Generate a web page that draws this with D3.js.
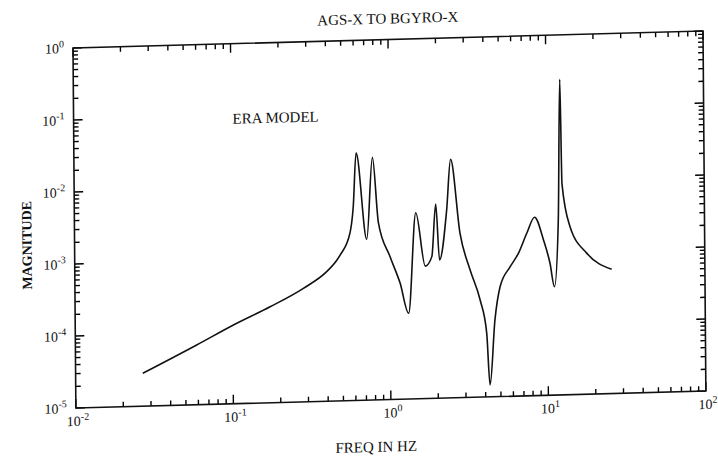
<!DOCTYPE html>
<html>
<head>
<meta charset="utf-8">
<script src="https://cdn.jsdelivr.net/npm/d3@7"></script>
<style>
  html, body { margin: 0; padding: 0; background: #fff; }
  svg { display: block; }
  .lbl { font-family: "Liberation Serif", "DejaVu Serif", serif; fill: #111; }
</style>
</head>
<body>
<div id="chart"></div>
<script>
// frequency response (Hz, magnitude)
var freqHz = [0.0267, 0.0589, 0.101, 0.173, 0.282, 0.397, 0.461, 0.483, 0.561, 0.590, 0.619,
              0.716, 0.785, 0.851, 1.005, 1.16, 1.31, 1.47, 1.68, 1.85, 1.97, 2.07, 2.31, 2.46,
              2.80, 3.23, 3.73, 4.09, 4.27, 4.62, 5.0, 5.81, 6.56, 7.43, 8.34, 9.48, 10.4, 11.07,
              11.8, 12.25, 12.5, 14.0, 17.8, 25.6];
var magnitude = [2.86e-5, 6.75e-5, 1.24e-4, 2.15e-4, 3.77e-4, 6.3e-4, 9.0e-4, 1.05e-3, 2.13e-3, 4.9e-3, 2.75e-2,
                 1.71e-3, 2.34e-2, 2.86e-3, 9.6e-4, 4.1e-4, 1.55e-4, 3.84e-3, 6.9e-4, 9.3e-4, 4.98e-3, 8.3e-4, 4.07e-3, 2.05e-2,
                 1.93e-3, 5.9e-4, 2.23e-4, 7.7e-5, 1.46e-5, 1.16e-4, 3.35e-4, 6.3e-4, 9.6e-4, 1.81e-3, 3.0e-3, 1.44e-3, 6.8e-4, 3.2e-4,
                 2.69e-3, 0.242, 8.6e-3, 2.15e-3, 9.1e-4, 5.3e-4];

var xDecades = [1e-2, 1e-1, 1e0, 1e1, 1e2];
var xExponents = ['-2', '-1', '0', '1', '2'];
var yDecades = [1e0, 1e-1, 1e-2, 1e-3, 1e-4, 1e-5];
var yExponents = ['0', '-1', '-2', '-3', '-4', '-5'];
var xMinor = [2, 3, 4, 5, 6, 7, 8, 9];

var titleText = 'AGS-X TO BGYRO-X';
var xTitle = 'FREQ IN HZ';
var yTitle = 'MAGNITUDE';
var noteText = 'ERA MODEL';

(function () {
  'use strict';

  var WIDTH = 718, HEIGHT = 457;
  var W = 630, H = 360;
  var MINOR = 5, MAJOR = 9;

  var svg = d3.select('#chart').append('svg')
    .attr('width', WIDTH)
    .attr('height', HEIGHT);

  // the scan is a little skewed, so the whole plot sits in a slanted frame
  var g = svg.append('g')
    .attr('transform', 'matrix(1,-0.027,0.008,1,73,48)');

  var x = d3.scaleLog().domain([1e-2, 1e2]).range([0, W]);
  var y = d3.scaleLog().domain([1e-5, 1]).range([H, 0]);

  // decade ticks plus the 2..9 multiples inside every decade
  function logTicks(decades) {
    var out = [];
    decades.forEach(function (d, i) {
      out.push({ v: d, major: true });
      if (i < decades.length - 1) {
        var lo = Math.min(d, decades[i + 1]);
        xMinor.forEach(function (m) { out.push({ v: lo * m, major: false }); });
      }
    });
    return out;
  }

  var xTickVals = logTicks(xDecades);
  var yTickVals = logTicks(yDecades);

  var path = d3.path();
  xTickVals.forEach(function (t) {
    var len = t.major ? MAJOR : MINOR;
    var px = x(t.v);
    path.moveTo(px, H); path.lineTo(px, H - len);
    path.moveTo(px, 0); path.lineTo(px, len);
  });
  yTickVals.forEach(function (t) {
    var len = t.major ? MAJOR : MINOR;
    var py = y(t.v);
    path.moveTo(0, py); path.lineTo(len, py);
    path.moveTo(W, py); path.lineTo(W - len, py);
  });

  // ticks point inward on all four sides
  g.append('path')
    .attr('d', path.toString())
    .attr('fill', 'none')
    .attr('stroke', '#000')
    .attr('stroke-width', 1.4);

  g.append('rect')
    .attr('x', 0).attr('y', 0)
    .attr('width', W).attr('height', H)
    .attr('fill', 'none')
    .attr('stroke', '#111')
    .attr('stroke-width', 1.6);

  function powerLabel(sel, exps) {
    sel.text('10')
      .append('tspan')
      .attr('dy', -6)
      .attr('font-size', 10)
      .text(function (d, i) { return exps[i]; });
  }

  g.selectAll('.xlab')
    .data(xDecades)
    .enter().append('text')
    .attr('class', 'lbl xlab')
    .attr('x', function (d) { return x(d) + 2; })
    .attr('y', H + 18)
    .attr('text-anchor', 'middle')
    .attr('font-size', 14)
    .call(powerLabel, xExponents);

  g.selectAll('.ylab')
    .data(yDecades)
    .enter().append('text')
    .attr('class', 'lbl ylab')
    .attr('x', -9)
    .attr('y', function (d) { return y(d) + 5; })
    .attr('text-anchor', 'end')
    .attr('font-size', 14)
    .call(powerLabel, yExponents);

  g.append('text')
    .attr('class', 'lbl')
    .attr('x', 315).attr('y', -16)
    .attr('text-anchor', 'middle')
    .attr('font-size', 15)
    .text(titleText);

  g.append('text')
    .attr('class', 'lbl')
    .attr('x', 300).attr('y', 412)
    .attr('text-anchor', 'middle')
    .attr('font-size', 15)
    .text(xTitle);

  g.append('text')
    .attr('class', 'lbl')
    .attr('transform', 'translate(-43,196) rotate(-90)')
    .attr('text-anchor', 'middle')
    .attr('font-size', 14)
    .attr('font-weight', 'bold')
    .text(yTitle);

  g.append('text')
    .attr('class', 'lbl')
    .attr('x', 202).attr('y', 80)
    .attr('text-anchor', 'middle')
    .attr('font-size', 15)
    .text(noteText);

  var points = freqHz.map(function (f, i) { return [f, magnitude[i]]; });

  var line = d3.line()
    .x(function (d) { return x(d[0]); })
    .y(function (d) { return y(d[1]); })
    .curve(d3.curveMonotoneX);

  g.append('path')
    .datum(points)
    .attr('d', line)
    .attr('fill', 'none')
    .attr('stroke', '#111')
    .attr('stroke-width', 1.6)
    .attr('stroke-linejoin', 'round');
}());
</script>
</body>
</html>
